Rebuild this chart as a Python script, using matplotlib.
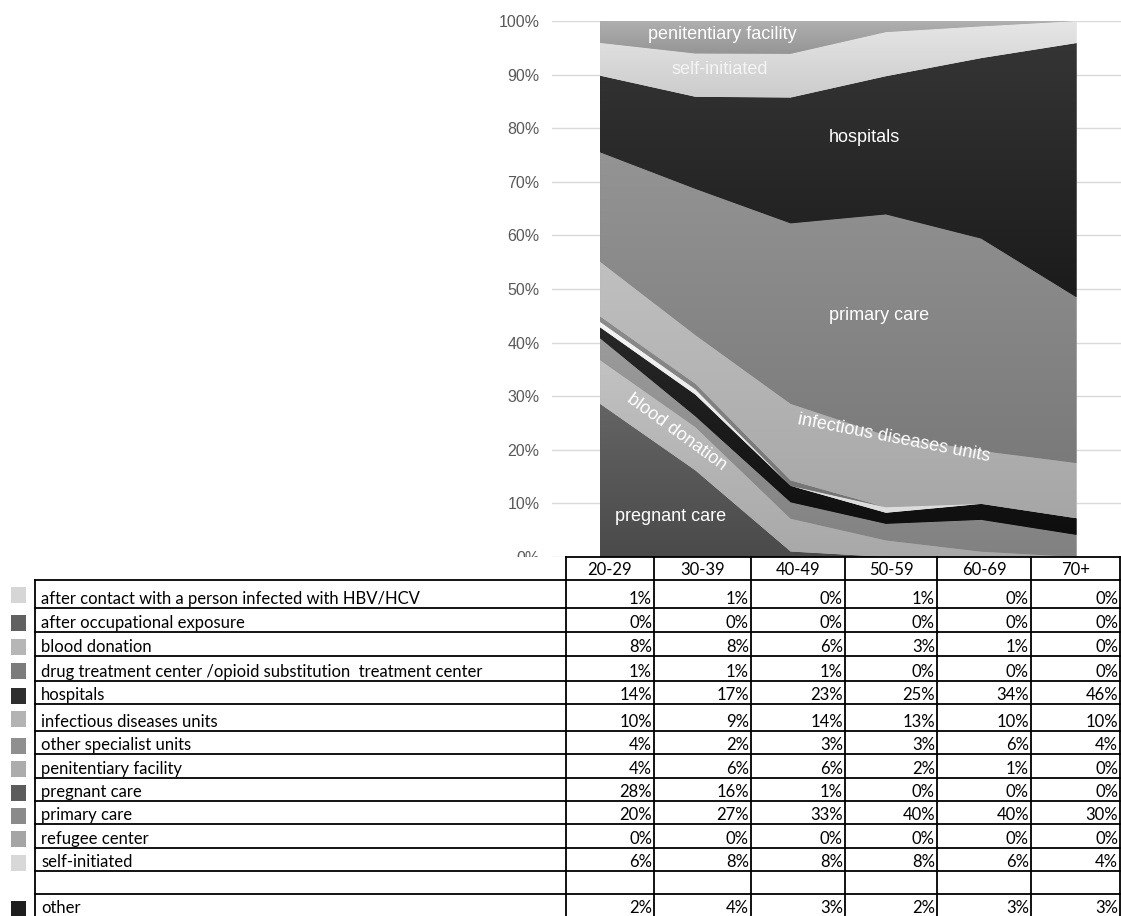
import numpy as np
import matplotlib
matplotlib.use('Agg')
import matplotlib.pyplot as plt
from matplotlib.patches import Rectangle
from matplotlib.colors import to_rgb

# age groups (columns of the table)
age_groups = ['20-29', '30-39', '40-49', '50-59', '60-69', '70+']

# share of diagnoses per place of testing (%), one list per table row
after_contact = [1, 1, 0, 1, 0, 0]
after_occupational = [0, 0, 0, 0, 0, 0]
blood_donation = [8, 8, 6, 3, 1, 0]
drug_treatment = [1, 1, 1, 0, 0, 0]
hospitals = [14, 17, 23, 25, 34, 46]
infectious_units = [10, 9, 14, 13, 10, 10]
other_specialist = [4, 2, 3, 3, 6, 4]
penitentiary = [4, 6, 6, 2, 1, 0]
pregnant_care = [28, 16, 1, 0, 0, 0]
primary_care = [20, 27, 33, 40, 40, 30]
refugee_center = [0, 0, 0, 0, 0, 0]
self_initiated = [6, 8, 8, 8, 6, 4]
other = [2, 4, 3, 2, 3, 3]

row_labels = ['after contact with a person infected with HBV/HCV',
              'after occupational exposure',
              'blood donation',
              'drug treatment center /opioid substitution  treatment center',
              'hospitals',
              'infectious diseases units',
              'other specialist units',
              'penitentiary facility',
              'pregnant care',
              'primary care',
              'refugee center',
              'self-initiated',
              '',
              'other']
row_values = [after_contact, after_occupational, blood_donation, drug_treatment,
              hospitals, infectious_units, other_specialist, penitentiary,
              pregnant_care, primary_care, refugee_center, self_initiated,
              None, other]
row_colors = ['#d6d6d6', '#616161', '#b6b6b6', '#7c7c7c', '#2e2e2e', '#b3b3b3',
              '#8f8f8f', '#acacac', '#5c5c5c', '#8a8a8a', '#a5a5a5', '#d8d8d8',
              None, '#1e1e1e']

# stacking order in the area chart, bottom -> top
stack_order = [pregnant_care, blood_donation, other_specialist, other,
               after_contact, drug_treatment, after_occupational, refugee_center,
               infectious_units, primary_care, hospitals, self_initiated, penitentiary]
stack_colors = ['#575757', '#b5b5b5', '#8e8e8e', '#1b1b1b', '#e8e8e8', '#7f7f7f',
                '#616161', '#a5a5a5', '#b3b3b3', '#878787', '#282828', '#d9d9d9',
                '#a2a2a2']


def shade(c, d):
    r, g, b = to_rgb(c)
    return tuple(min(1, max(0, v + d)) for v in (r, g, b))


W, H = 1121, 916
fig = plt.figure(figsize=(W / 100, H / 100), dpi=100)

# ---- 100% stacked area chart ----
ax = fig.add_axes([552 / W, (H - 557) / H, (W - 552) / W, 536 / H])
x = np.arange(len(age_groups))
vals = np.array(stack_order, dtype=float)
vals = vals / vals.sum(axis=0) * 100
tops = np.cumsum(vals, axis=0)
bottoms = tops - vals
for k, col in enumerate(stack_colors):
    if vals[k].max() == 0:
        continue
    poly = ax.fill_between(x, bottoms[k], tops[k], facecolor=col, linewidth=0, zorder=2)
    # soft vertical shading like the original spreadsheet chart
    y0, y1 = bottoms[k].min(), tops[k].max()
    grad = np.linspace(0, 1, 64)[:, None]
    lo, hi = np.array(shade(col, -0.05)), np.array(shade(col, 0.05))
    img = lo[None, None, :] * (1 - grad[..., None]) + hi[None, None, :] * grad[..., None]
    im = ax.imshow(img, extent=[0, 5, y0, y1], origin='lower', aspect='auto',
                   zorder=2.1, interpolation='bilinear')
    im.set_clip_path(poly.get_paths()[0], transform=ax.transData)
ax.set_xlim(-0.504, 5.467)
ax.set_ylim(0, 100)
ax.set_yticks(np.arange(0, 101, 10))
ax.set_yticklabels([f'{v}%' for v in range(0, 101, 10)],
                   fontfamily='Liberation Sans', fontsize=11.5, color='#595959')
ax.tick_params(axis='y', length=0, pad=9)
ax.set_xticks([])
ax.grid(axis='y', color='#d9d9d9', linewidth=1, zorder=0)
ax.set_axisbelow(True)
for s in ax.spines.values():
    s.set_visible(False)

lab = dict(color='white', fontfamily='Liberation Sans', fontsize=13,
           ha='center', va='center', zorder=5)
ax.text(1.28, 97.4, 'penitentiary facility', **lab)
ax.text(1.26, 91.0, 'self-initiated', **dict(lab, color='#f4f4f4'))
ax.text(2.77, 78.2, 'hospitals', **lab)
ax.text(2.93, 45.0, 'primary care', **lab)
ax.text(3.08, 22.2, 'infectious diseases units', rotation=-11, **lab)
ax.text(0.80, 23.3, 'blood donation', rotation=-36, **lab)
ax.text(0.74, 7.6, 'pregnant care', **lab)

# ---- table below the chart (pixel coordinates) ----
tb = fig.add_axes([0, 0, 1, 1], zorder=10)
tb.set_xlim(0, W)
tb.set_ylim(H, 0)
tb.axis('off')
tb.patch.set_visible(False)
tb.add_patch(Rectangle((0, 557), W, H - 557, facecolor='white', edgecolor='none'))

col_edges = [566, 654, 751, 845, 937, 1031, 1120]
row_edges = [580, 608, 632, 656, 681, 704, 731, 754, 778, 801, 824, 848, 871, 894, 917]
lw = 1.3
tfont = dict(fontfamily='Lato', fontsize=12, color='black')

# header row
tb.plot([566, 1120], [557, 557], color='black', lw=lw)
for xe in col_edges:
    tb.plot([xe, xe], [557, H], color='black', lw=lw)
tb.plot([35, 35], [580, H], color='black', lw=lw)
for i, g in enumerate(age_groups):
    xc = (col_edges[i] + col_edges[i + 1]) / 2
    tb.text(xc, 575, g, ha='center', va='baseline', **tfont)

for r in range(len(row_labels)):
    top, bot = row_edges[r], row_edges[r + 1]
    tb.plot([35, 1120], [top, top], color='black', lw=lw)
    tb.text(41, bot - 4, row_labels[r], ha='left', va='baseline', **tfont)
    if row_values[r] is not None:
        for i, v in enumerate(row_values[r]):
            tb.text(col_edges[i + 1] - 2, bot - 4, f'{v}%', ha='right',
                    va='baseline', **tfont)
    if row_colors[r] is not None:
        tb.add_patch(Rectangle((11, top + 7), 15, 16, facecolor=row_colors[r],
                               edgecolor='none'))

fig.savefig('out.png', dpi=100)
